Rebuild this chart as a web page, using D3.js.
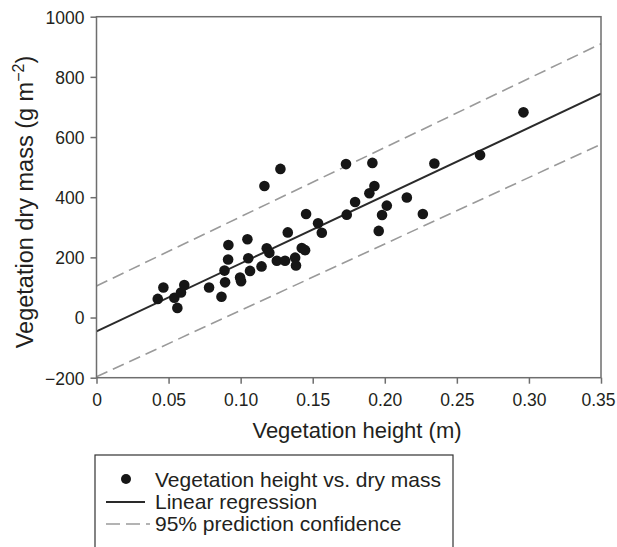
<!DOCTYPE html>
<html>
<head>
<meta charset="utf-8">
<script src="https://cdnjs.cloudflare.com/ajax/libs/d3/7.8.5/d3.min.js"></script>
<style>
  html, body { margin: 0; padding: 0; background: #fff; }
  svg { display: block; font-family: "Liberation Sans", Arial, Helvetica, sans-serif; }
</style>
</head>
<body>
<svg id="chart" width="617" height="547"></svg>
<script>
// ---- data ----
const heights = [0.0425, 0.0464, 0.0540, 0.0561, 0.0586, 0.0609, 0.0781, 0.0867, 0.0892, 0.0888,
  0.0913, 0.0915, 0.0996, 0.1003, 0.1047, 0.1053, 0.1065, 0.1145, 0.1165, 0.1181,
  0.1199, 0.1251, 0.1276, 0.1308, 0.1327, 0.1378, 0.1384, 0.1424, 0.1447, 0.1454,
  0.1537, 0.1563, 0.1731, 0.1736, 0.1794, 0.1893, 0.1914, 0.1928, 0.1958, 0.1981,
  0.2014, 0.2153, 0.2264, 0.2344, 0.2661, 0.2962];
const dryMass = [62, 100, 66, 32, 83, 108, 100, 69, 117, 156,
  193, 241, 133, 121, 260, 197, 155, 170, 437, 230,
  215, 189, 494, 189, 283, 199, 173, 231, 224, 344,
  313, 282, 510, 342, 384, 413, 514, 437, 288, 341,
  372, 399, 344, 512, 540, 682];
const lineX = [0, 0.35];
const regressionY = [-46, 744];
const upperPredY = [105, 910];
const lowerPredY = [-197, 576];
const xTicks = [0, 0.05, 0.10, 0.15, 0.20, 0.25, 0.30, 0.35];
const xTickLabels = ["0", "0.05", "0.10", "0.15", "0.20", "0.25", "0.30", "0.35"];
const yTicks = [-200, 0, 200, 400, 600, 800, 1000];
const yTickLabels = ["\u2212200", "0", "200", "400", "600", "800", "1000"];
const legendLabels = ["Vegetation height vs. dry mass", "Linear regression", "95% prediction confidence"];

// ---- layout ----
const svg = d3.select("#chart");
const L = 96.5, R = 601, T = 16.7, B = 377.7;
const x = d3.scaleLinear().domain([0, 0.35]).range([L, R]);
const y = d3.scaleLinear().domain([-200, 1000]).range([B, T]);
const textCol = "#231f20";
const frameCol = "#6e6e6e";

svg.append("defs").append("clipPath").attr("id", "clip")
  .append("rect").attr("x", L).attr("y", T).attr("width", R - L).attr("height", B - T);

const plot = svg.append("g").attr("clip-path", "url(#clip)");

const line = d3.line().x(d => x(d[0])).y(d => y(d[1]));
plot.append("path").datum(d3.zip(lineX, upperPredY)).attr("d", line)
  .attr("fill", "none").attr("stroke", "#9a9a9a").attr("stroke-width", 1.6).attr("stroke-dasharray", "12,6");
plot.append("path").datum(d3.zip(lineX, lowerPredY)).attr("d", line)
  .attr("fill", "none").attr("stroke", "#9a9a9a").attr("stroke-width", 1.6).attr("stroke-dasharray", "12,6");
plot.append("path").datum(d3.zip(lineX, regressionY)).attr("d", line)
  .attr("fill", "none").attr("stroke", "#2a2a2a").attr("stroke-width", 2);

plot.selectAll("circle.pt").data(d3.zip(heights, dryMass)).enter().append("circle")
  .attr("class", "pt").attr("cx", d => x(d[0])).attr("cy", d => y(d[1])).attr("r", 5.3)
  .attr("fill", "#161616");

// axes
const xAxis = d3.axisBottom(x).tickValues(xTicks).tickSize(6).tickFormat((d, i) => xTickLabels[i]);
const gx = svg.append("g").attr("transform", `translate(0,${B})`).call(xAxis);
const yAxis = d3.axisLeft(y).tickValues(yTicks).tickSize(6).tickFormat((d, i) => yTickLabels[i]);
const gy = svg.append("g").attr("transform", `translate(${L},0)`).call(yAxis);
[gx, gy].forEach(g => {
  g.select(".domain").remove();
  g.selectAll(".tick line").attr("stroke", frameCol).attr("stroke-width", 1.5);
  g.selectAll(".tick text").attr("fill", textCol).attr("font-size", 17.5)
    .attr("font-family", "Liberation Sans, Arial, sans-serif");
});
gx.selectAll(".tick text").attr("dy", null).attr("y", 28)
  .attr("x", (d, i) => i === xTicks.length - 1 ? -3 : 0);
gy.selectAll(".tick text").attr("x", -12).attr("dy", "0.36em");

// frame
svg.append("rect").attr("x", L).attr("y", T).attr("width", R - L).attr("height", B - T)
  .attr("fill", "none").attr("stroke", frameCol).attr("stroke-width", 1.5);

// titles
svg.append("text").attr("x", 357).attr("y", 438).attr("text-anchor", "middle")
  .attr("font-size", 22).attr("fill", textCol).text("Vegetation height (m)");
const yt = svg.append("text").attr("transform", `translate(33,202) rotate(-90)`)
  .attr("text-anchor", "middle").attr("font-size", 23.5).attr("fill", textCol);
yt.append("tspan").text("Vegetation dry mass (g m");
yt.append("tspan").attr("dy", -9).attr("font-size", 16).text("\u22122");
yt.append("tspan").attr("dy", 9).text(")");

// legend
const lg = svg.append("g");
lg.append("rect").attr("x", 95).attr("y", 455).attr("width", 358).attr("height", 110)
  .attr("fill", "#fff").attr("stroke", "#333").attr("stroke-width", 1.2);
const rows = [487, 509, 531];
lg.append("circle").attr("cx", 126).attr("cy", rows[0] - 8).attr("r", 5).attr("fill", "#161616");
lg.append("line").attr("x1", 106).attr("x2", 145).attr("y1", rows[1] - 7).attr("y2", rows[1] - 7)
  .attr("stroke", "#2a2a2a").attr("stroke-width", 2);
lg.append("line").attr("x1", 106).attr("x2", 150).attr("y1", rows[2] - 7).attr("y2", rows[2] - 7)
  .attr("stroke", "#9a9a9a").attr("stroke-width", 1.6).attr("stroke-dasharray", "14,6");
lg.selectAll("text.lt").data(legendLabels).enter().append("text").attr("class", "lt")
  .attr("x", 155).attr("y", (d, i) => rows[i]).attr("font-size", 21).attr("fill", textCol)
  .text(d => d);
</script>
</body>
</html>
